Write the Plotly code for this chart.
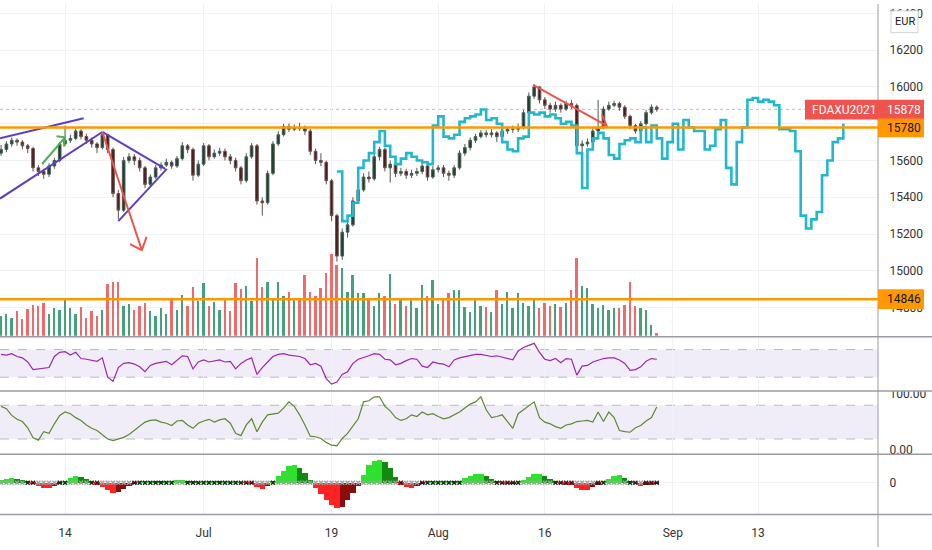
import plotly.graph_objects as go

# canvas, in pixels of the screenshot
W, H = 932, 550
AXIS_X = 878

# --- price candles (two bars per trading day, bar index on the x axis) ---
first_open = 15640
closes = [15660, 15690, 15710, 15700, 15680, 15665, 15560, 15540, 15525, 15570,
          15600, 15690, 15710, 15720, 15760, 15730, 15710, 15690, 15670, 15740,
          15660, 15420, 15330, 15600, 15620, 15600, 15560, 15470, 15510, 15560,
          15575, 15590, 15570, 15610, 15680, 15660, 15520, 15580, 15680, 15620,
          15640, 15650, 15620, 15600, 15560, 15490, 15620, 15680, 15380, 15370,
          15530, 15690, 15740, 15785, 15770, 15780, 15775, 15760, 15650, 15600,
          15590, 15490, 15300, 15080, 15210, 15250, 15380, 15440, 15510, 15500,
          15620, 15660, 15560, 15580, 15530, 15540, 15520, 15530, 15540, 15570,
          15510, 15550, 15560, 15530, 15520, 15560, 15640, 15670, 15710, 15730,
          15750, 15740, 15750, 15730, 15760, 15770, 15770, 15780, 15860, 15950,
          16000, 15930, 15900, 15880, 15900, 15880, 15910, 15900, 15680, 15690,
          15700, 15760, 15780, 15880, 15900, 15910, 15890, 15840, 15790, 15760,
          15800, 15860, 15890, 15878]
highs = [15685, 15705, 15725, 15720, 15710, 15690, 15675, 15575, 15555, 15585,
         15615, 15700, 15790, 15740, 15775, 15770, 15745, 15725, 15700, 15750,
         15745, 15670, 15440, 15620, 15640, 15635, 15615, 15570, 15525, 15575,
         15590, 15610, 15600, 15625, 15700, 15690, 15670, 15600, 15695, 15690,
         15660, 15670, 15665, 15635, 15615, 15570, 15640, 15695, 15690, 15400,
         15545, 15705, 15760, 15800, 15800, 15795, 15805, 15790, 15770, 15665,
         15640, 15600, 15500, 15310, 15230, 15275, 15400, 15460, 15530, 15540,
         15640, 15675, 15670, 15600, 15595, 15560, 15555, 15550, 15560, 15590,
         15580, 15570, 15575, 15575, 15545, 15575, 15655, 15690, 15725, 15745,
         15765, 15765, 15770, 15760, 15775, 15785, 15790, 15800, 15875, 15970,
         16015, 16005, 15945, 15915, 15920, 15910, 15925, 15930, 15910, 15710,
         15720, 15775, 15930, 15895, 15920, 15925, 15920, 15900, 15850, 15800,
         15815, 15875, 15905, 15900]
lows = [15625, 15645, 15675, 15680, 15660, 15640, 15540, 15515, 15500, 15510,
        15555, 15590, 15680, 15695, 15710, 15715, 15690, 15670, 15640, 15660,
        15640, 15400, 15280, 15320, 15585, 15575, 15540, 15450, 15460, 15500,
        15545, 15565, 15555, 15560, 15600, 15640, 15490, 15510, 15570, 15600,
        15610, 15625, 15600, 15580, 15540, 15470, 15480, 15610, 15360, 15300,
        15360, 15520, 15680, 15730, 15755, 15760, 15760, 15740, 15630, 15580,
        15570, 15470, 15270, 15050, 15060, 15180, 15240, 15365, 15430, 15480,
        15490, 15600, 15540, 15480, 15510, 15515, 15500, 15505, 15515, 15525,
        15490, 15500, 15535, 15510, 15490, 15505, 15550, 15625, 15655, 15695,
        15720, 15725, 15725, 15700, 15715, 15745, 15750, 15755, 15770, 15850,
        15935, 15910, 15880, 15860, 15865, 15860, 15870, 15880, 15660, 15640,
        15675, 15690, 15745, 15770, 15870, 15890, 15870, 15825, 15770, 15745,
        15750, 15790, 15850, 15865]
volume = [20, 22, 18, 25, 17, 27, 31, 30, 33, 22,
          28, 26, 36, 28, 22, 29, 18, 25, 20, 26,
          52, 54, 54, 30, 32, 26, 30, 33, 25, 20,
          28, 22, 36, 26, 41, 30, 49, 35, 53, 30,
          34, 26, 36, 25, 53, 47, 50, 35, 79, 49,
          54, 36, 54, 40, 44, 36, 38, 62, 44, 40,
          48, 64, 83, 72, 69, 44, 62, 43, 43, 36,
          30, 43, 40, 63, 32, 36, 30, 36, 28, 51,
          40, 56, 32, 36, 43, 46, 46, 29, 24, 37,
          30, 29, 24, 46, 32, 44, 28, 43, 33, 30,
          36, 28, 33, 30, 32, 29, 33, 46, 79, 50,
          48, 32, 28, 31, 26, 28, 28, 31, 54, 30,
          28, 26, 11, 3]

# comparison symbol (cyan step line), starts at bar 63
compare_start = 63
compare = [15540, 15270, 15300, 15370, 15560, 15600, 15640, 15700, 15760, 15680,
           15620, 15580, 15610, 15640, 15620, 15600, 15590, 15580, 15790, 15840,
           15730, 15720, 15740, 15810, 15830, 15840, 15850, 15877, 15820, 15830,
           15800, 15700, 15660, 15650, 15720, 15730, 15860, 15850, 15860, 15840,
           15850, 15830, 15800, 15810, 15790, 15640, 15450, 15660, 15720, 15750,
           15720, 15630, 15610, 15690, 15710, 15720, 15700, 15780, 15700, 15790,
           15720, 15610, 15700, 15800, 15660, 15820, 15780, 15760, 15760, 15660,
           15680, 15770, 15820, 15560, 15470, 15700, 15780, 15930, 15940, 15920,
           15930, 15920, 15900, 15770, 15770, 15760, 15650, 15300, 15230, 15280,
           15320, 15520, 15600, 15700, 15720, 15800]

# --- indicators ---
rsi = [63, 62, 64, 60, 58, 52, 41, 42, 42, 44,
       60, 66, 67, 62, 66, 57, 56, 55, 53, 58,
       30, 24, 44, 50, 51, 49, 45, 38, 47, 50,
       52, 53, 48, 54, 61, 60, 42, 52, 55, 52,
       54, 55, 52, 53, 42, 50, 55, 58, 34, 44,
       52, 60, 63, 64, 62, 61, 60, 57, 48, 50,
       46, 28, 20, 23, 34, 38, 50, 56, 58, 61,
       64, 63, 56, 55, 48, 50, 54, 57, 56, 46,
       44, 52, 50, 49, 45, 55, 58, 60, 62, 63,
       63, 62, 60, 61, 59, 58, 55, 68, 73, 76,
       79, 66, 56, 54, 57, 51, 57, 56, 33, 46,
       47, 52, 55, 57, 58, 58, 55, 50, 40, 41,
       45, 53, 57, 56]
stoch = [78, 74, 62, 55, 51, 40, 22, 18, 33, 30,
         47, 62, 68, 65, 58, 53, 45, 39, 35, 28,
         20, 17, 20, 23, 28, 35, 42, 50, 53, 54,
         50, 48, 44, 52, 53, 45, 39, 48, 52, 55,
         50, 54, 56, 48, 30, 26, 45, 56, 33, 50,
         63, 64, 66, 75, 86, 78, 63, 45, 25, 24,
         21, 14, 9, 8, 21, 30, 44, 56, 86, 88,
         95, 95, 78, 70, 58, 53, 56, 63, 60, 68,
         63, 65, 60, 56, 58, 63, 68, 75, 82, 86,
         95, 72, 58, 60, 63, 51, 39, 65, 72, 79,
         86, 58, 50, 47, 42, 39, 45, 47, 51, 52,
         53, 50, 68, 51, 68, 58, 35, 33, 32, 40,
         44, 52, 58, 77]
momentum = [3, 4, 5, 4, 3, 1, -1, -3, -5, -5,
            -3, -1, 2, 5, 7, 6, 4, 1, -2, -4,
            -7, -10, -9, -6, -3, -1, 1, 1.5, 2, 1.5,
            1, 1, 2, 3, 3, 2, 1, 0.5, 1, 1,
            1.5, 1, 1, 0.5, 1.5, 0.5, -1, -1, -4, -6,
            -3, 2, 7, 12, 17, 18, 15, 10, 3, -5,
            -12, -18, -23, -26, -25, -18, -10, -3, 8, 18,
            22, 23, 21, 15, 6, -2, -4, -5, -3, -1,
            1, 1, 1, 1.5, 2, 1, 2, 5, 7, 9,
            9, 7, 4, 2, -1, -1.5, -1, 1, 3, 6,
            9, 9, 7, 4, 1, -1, -2, -2, -5, -7,
            -7, -4, -2, 1, 4, 7, 8, 5, 2, -1,
            -3, -2, -2, -1]

# time axis
tick_bars = [12, 38, 62, 82, 102, 126, 142]
tick_text = ["14", "Jul", "19", "Aug", "16", "Sep", "13"]
price_ticks = [14800, 15000, 15200, 15400, 15600, 15800, 16000, 16200, 16400]
# 15800 sits under the 15780 level label, so its text is left out
price_text = ["14800", "15000", "15200", "15400", "15600", "", "16000", "16200", "16400"]

levels = [15780, 14846]
last_price = 15878
symbol = "FDAXU2021"

# hand drawn lines (bar index, price)
purple_x = [-0.2, 15.5, None, -0.2, 19, None, 19, 30.8, None, 22, 31.1]
purple_y = [15721, 15830, None, 15393, 15755, None, 15755, 15554, None, 15270, 15554]
red_x = [19, 26.4, None, 24.2, 26.4, 27.3, None, 99.8, 113.6, None, 112.7, 113.6, 111.4]
red_y = [15755, 15113, None, 15145, 15113, 15185, None, 16011, 15789, None, 15851, 15789, 15771]
green_x = [7.7, 12, None, 10.4, 12, 11.8]
green_y = [15581, 15726, None, 15732, 15726, 15676]

bars = list(range(len(closes)))
opens = [first_open] + closes[:-1]
vol_colors = ["#45a17a" if c >= o else "#ef6b6b" for o, c in zip(opens, closes)]

mom_colors = []
prev = 0
for v in momentum:
    if v >= 0:
        mom_colors.append("#2fe02f" if v >= prev else "#128a12")
    else:
        mom_colors.append("#ff2222" if v <= prev else "#8b0c0c")
    prev = v
dot_colors = ["#222222" if abs(v) < 3 else "#a0a0a0" for v in momentum]


def px(x):
    return x / W


def py(y):
    return 1 - y / H


fig = go.Figure()

fig.add_trace(go.Bar(x=bars, y=volume, marker=dict(color=vol_colors, line_width=0),
                     width=0.35, xaxis="x", yaxis="y5", hoverinfo="skip"))
fig.add_trace(go.Candlestick(
    x=bars, open=opens, high=highs, low=lows, close=closes,
    increasing=dict(line=dict(color="#4a5f53", width=1), fillcolor="#1c3f2e"),
    decreasing=dict(line=dict(color="#665050", width=1), fillcolor="#4e1a1a"),
    whiskerwidth=0, xaxis="x", yaxis="y", hoverinfo="skip"))
fig.add_trace(go.Scatter(x=list(range(compare_start, compare_start + len(compare))), y=compare,
                         mode="lines", line=dict(color="#1fb8cf", width=2.6, shape="hv"),
                         xaxis="x", yaxis="y"))
fig.add_trace(go.Scatter(x=purple_x, y=purple_y, mode="lines",
                         line=dict(color="#5e3ec8", width=2), xaxis="x", yaxis="y"))
fig.add_trace(go.Scatter(x=red_x, y=red_y, mode="lines",
                         line=dict(color="#f0524a", width=2), xaxis="x", yaxis="y"))
fig.add_trace(go.Scatter(x=green_x, y=green_y, mode="lines",
                         line=dict(color="#4caf50", width=2), xaxis="x", yaxis="y"))

fig.add_trace(go.Scatter(x=bars, y=rsi, mode="lines", line=dict(color="#9c27b0", width=1.2),
                         xaxis="x2", yaxis="y2"))
fig.add_trace(go.Scatter(x=bars, y=stoch, mode="lines", line=dict(color="#5b8a2e", width=1.2),
                         xaxis="x3", yaxis="y3"))
fig.add_trace(go.Bar(x=bars, y=momentum, marker=dict(color=mom_colors, line_width=0),
                     width=1, xaxis="x4", yaxis="y4"))
fig.add_trace(go.Scatter(x=bars, y=[0] * len(bars), mode="markers",
                         marker=dict(symbol="x-thin", size=4, color=dot_colors,
                                     line=dict(width=1.5, color=dot_colors)),
                         xaxis="x4", yaxis="y4"))

grid = "#eef1f6"
tick_font = dict(family="Roboto", size=12, color="#333333")
xbase = dict(range=[-0.2, 164.5], domain=[0, px(AXIS_X)], tickvals=tick_bars, ticktext=tick_text,
             showgrid=True, gridcolor=grid, zeroline=False, showline=False, fixedrange=True)
ybase = dict(side="right", zeroline=False, tickfont=tick_font, ticks="outside", ticklen=8,
             tickcolor="rgba(0,0,0,0)")

fig.update_layout(
    width=W, height=H, margin=dict(l=0, r=0, t=0, b=0),
    paper_bgcolor="white", plot_bgcolor="white", showlegend=False, bargap=0,
    xaxis=dict(xbase, anchor="y", showticklabels=False, rangeslider=dict(visible=False)),
    xaxis2=dict(xbase, anchor="y2", matches="x", showticklabels=False),
    xaxis3=dict(xbase, anchor="y3", matches="x", showticklabels=False),
    xaxis4=dict(xbase, anchor="y4", matches="x", showticklabels=True, tickfont=tick_font,
                ticks="outside", ticklen=7, tickcolor="rgba(0,0,0,0)"),
    yaxis=dict(ybase, domain=[py(336), 1], range=[14647, 16451], anchor="x",
               tickvals=price_ticks, ticktext=price_text, showgrid=True, gridcolor=grid),
    yaxis5=dict(overlaying="y", range=[0, 336], visible=False),
    yaxis2=dict(domain=[py(392), py(337)], range=[10, 88.6], side="right", anchor="x2",
                showticklabels=False, showgrid=False, zeroline=False),
    yaxis3=dict(ybase, domain=[py(456), py(392)], range=[-7, 105.3], anchor="x3",
                tickvals=[0, 100], tickformat=".2f", showgrid=False),
    yaxis4=dict(ybase, domain=[py(517), py(456)], range=[-32, 29], anchor="x4",
                tickvals=[0], showgrid=True, gridcolor=grid),
)

shapes = []
# indicator bands
for xr, yr, lo, hi in [("x2 domain", "y2", 30, 70), ("x3 domain", "y3", 20, 80)]:
    shapes.append(dict(type="rect", xref=xr, yref=yr, x0=0, x1=1, y0=lo, y1=hi,
                       fillcolor="rgba(126,87,194,0.11)", line_width=0, layer="below"))
    for lvl in (lo, hi):
        shapes.append(dict(type="line", xref=xr, yref=yr, x0=0, x1=1, y0=lvl, y1=lvl,
                           line=dict(color="#b8b8c4", width=1, dash="dash"), layer="below"))
# last price dotted line
shapes.append(dict(type="line", xref="x domain", yref="y", x0=0, x1=1, y0=last_price, y1=last_price,
                   line=dict(color="rgba(239,83,80,0.55)", width=1, dash="dot"), layer="below"))
# horizontal levels
for lvl in levels:
    shapes.append(dict(type="line", xref="x domain", yref="y", x0=0, x1=1, y0=lvl, y1=lvl,
                       line=dict(color="#ff9800", width=2.5), layer="above"))
# masks that clip the 100.00 / 0.00 labels at pane edges
shapes.append(dict(type="rect", xref="paper", yref="paper", x0=px(AXIS_X + 1), x1=1,
                   y0=py(392), y1=py(378), fillcolor="white", line_width=0, layer="above"))
shapes.append(dict(type="rect", xref="paper", yref="paper", x0=px(AXIS_X + 1), x1=1,
                   y0=py(470), y1=py(456), fillcolor="white", line_width=0, layer="above"))
# pane separators and price scale border
for yy in (337, 392, 456, 517):
    shapes.append(dict(type="line", xref="paper", yref="paper", x0=0, x1=1, y0=py(yy), y1=py(yy),
                       line=dict(color="#9a9ca3", width=1.5), layer="above"))
shapes.append(dict(type="line", xref="paper", yref="paper", x0=px(AXIS_X), x1=px(AXIS_X), y0=0, y1=1,
                   line=dict(color="#9a9ca3", width=1), layer="above"))
# currency button
shapes.append(dict(type="rect", xref="paper", yref="paper", x0=px(891), x1=px(918), y0=py(29), y1=py(7),
                   fillcolor="white", line=dict(color="#d1d4dc", width=1), layer="above"))
# price labels
shapes.append(dict(type="rect", xref="paper", yref="paper", x0=px(805), x1=px(924), y0=py(117), y1=py(97),
                   fillcolor="#ef5350", line_width=0, layer="above"))
shapes.append(dict(type="rect", xref="paper", yref="paper", x0=px(AXIS_X), x1=px(924), y0=py(135), y1=py(116),
                   fillcolor="#ff9800", line_width=0, layer="above"))
shapes.append(dict(type="rect", xref="paper", yref="paper", x0=px(AXIS_X), x1=px(924), y0=py(309), y1=py(289),
                   fillcolor="#ff9800", line_width=0, layer="above"))
fig.update_layout(shapes=shapes)

lab = dict(family="Roboto", size=12)
annotations = [
    dict(text="EUR", x=px(904.5), y=py(18), font=dict(lab, size=11, color="#131722")),
    dict(text=symbol, x=px(810), y=py(107), xanchor="left", font=dict(lab, color="white")),
    dict(text=f"{last_price}", x=px(904), y=py(107), font=dict(lab, color="white")),
    dict(text=f"{levels[0]}", x=px(904), y=py(125.5), font=dict(lab, color="#131722")),
    dict(text=f"{levels[1]}", x=px(904), y=py(299), font=dict(lab, color="#131722")),
]
for a in annotations:
    a.update(xref="paper", yref="paper", showarrow=False, yanchor="middle")
    a.setdefault("xanchor", "center")
fig.update_layout(annotations=annotations)

# the page body has a default 8px margin; drop it so the figure fills the window
fig.write_html("out.html", config={"displayModeBar": False},
               post_script="document.body.style.margin='0px';")
